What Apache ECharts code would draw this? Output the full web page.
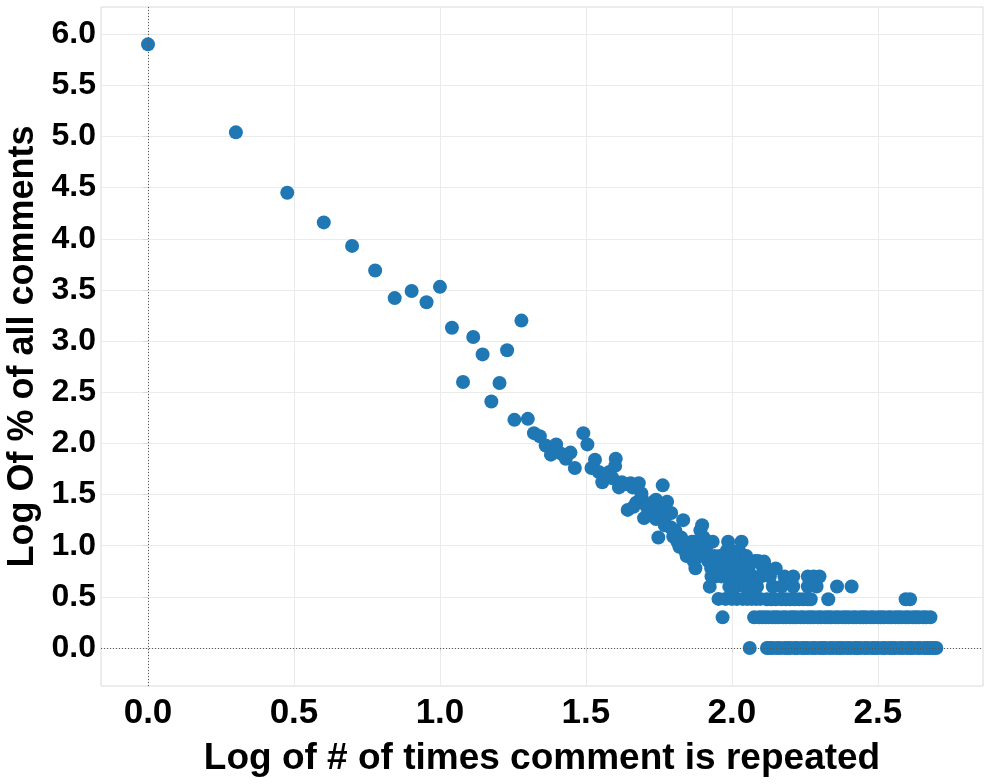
<!DOCTYPE html>
<html><head><meta charset="utf-8">
<script src="https://cdn.jsdelivr.net/npm/echarts@6/dist/echarts.min.js"></script>
<style>html,body{margin:0;padding:0;background:#fff}#chart{width:984px;height:784px}</style>
</head><body><div id="chart"></div>
<script>
// Sparse head of the distribution
const headX = [0, 0.301, 0.477, 0.602, 0.699, 0.778, 0.845, 0.903, 0.954, 1.0, 1.041, 1.079, 1.114, 1.146, 1.176, 1.204, 1.230, 1.255, 1.279, 1.301];
const headY = [5.90, 5.04, 4.45, 4.16, 3.93, 3.69, 3.42, 3.49, 3.38, 3.53, 3.13, 2.60, 3.04, 2.87, 2.41, 2.59, 2.91, 2.23, 3.20, 2.24];

// Dense middle cloud
const midX = [1.322, 1.342, 1.362, 1.380, 1.398, 1.415, 1.431, 1.447, 1.462, 1.491, 1.505, 1.519, 1.531, 1.544, 1.556, 1.568, 1.580, 1.591, 1.602, 1.613,
  1.623, 1.633, 1.643, 1.653, 1.663, 1.672, 1.681, 1.690, 1.699, 1.708, 1.716, 1.724, 1.732, 1.740, 1.748, 1.756, 1.763, 1.771, 1.778, 1.785,
  1.792, 1.799, 1.806, 1.813, 1.820, 1.826, 1.833, 1.839, 1.845, 1.851, 1.857, 1.863, 1.869, 1.875, 1.881, 1.886, 1.892, 1.898, 1.903, 1.908,
  1.914, 1.919, 1.924, 1.929, 1.934, 1.940, 1.944, 1.949, 1.954, 1.959, 1.964, 1.968, 1.973, 1.978, 1.982, 1.987, 1.991, 1.996, 2.000, 2.004,
  2.009, 2.013, 2.017, 2.021, 2.025, 2.029, 2.033, 2.037, 2.041, 2.045, 2.049, 2.053, 2.057, 2.061, 2.064, 2.068, 2.072, 2.076, 2.079, 2.083,
  2.086, 2.090, 2.093, 2.097, 2.100, 2.104, 2.107];
const midY = [2.10, 2.07, 1.98, 1.89, 1.99, 1.90, 1.85, 1.91, 1.76, 2.10, 1.99, 1.76, 1.84, 1.72, 1.62, 1.68, 1.72, 1.66, 1.85, 1.57,
  1.62, 1.60, 1.35, 1.61, 1.38, 1.42, 1.61, 1.48, 1.27, 1.38, 1.40, 1.32, 1.43, 1.45, 1.08, 1.35, 1.59, 1.28, 1.43, 1.32,
  1.32, 1.09, 1.15, 1.04, 0.99, 1.08, 1.25, 0.95, 0.90, 0.98, 0.95, 1.04, 0.85, 0.78, 0.99, 0.95, 1.15, 1.20, 1.08, 0.90,
  1.00, 0.85, 0.60, 0.78, 1.04, 0.90, 0.70, 0.85, 0.48, 0.90, 0.70, 0.30, 0.85, 0.48, 0.95, 1.04, 0.60, 0.78, 0.48, 0.90,
  0.70, 0.60, 0.48, 0.85, 0.95, 0.85, 1.04, 0.48, 0.70, 0.60, 0.90, 0.48, 0.78, 0.00, 0.60, 0.48, 0.70, 0.30, 0.85, 0.48,
  0.60, 0.85, 0.30, 0.48, 0.70, 0.30, 0.78];

// Extra overlapping points inside the dense cloud
const cloudX = [1.600, 1.660, 1.690, 1.720, 1.740, 1.770, 1.790, 1.810, 1.830, 1.860, 1.870, 1.890, 1.910, 1.930, 1.960, 1.990, 2.020, 2.050, 2.070, 1.985, 2.000];
const cloudY = [1.78, 1.57, 1.51, 1.30, 1.26, 1.20, 1.18, 1.08, 1.00, 0.92, 1.04, 0.90, 0.95, 0.70, 0.78, 0.70, 0.78, 0.70, 0.60, 0.85, 0.95];

// Long tail: x positions per discrete y level
const tailX0 = [2.12, 2.13, 2.14, 2.155, 2.165, 2.18, 2.19, 2.20, 2.215, 2.225, 2.24, 2.25, 2.26, 2.275, 2.285, 2.30, 2.31, 2.32, 2.335, 2.345,
  2.36, 2.37, 2.38, 2.395, 2.405, 2.42, 2.43, 2.44, 2.455, 2.465, 2.48, 2.49, 2.50, 2.515, 2.525, 2.54, 2.55, 2.56, 2.575, 2.585,
  2.60, 2.61, 2.62, 2.635, 2.645, 2.66, 2.67, 2.68, 2.69, 2.70];
const tailX030 = [2.115, 2.125, 2.14, 2.15, 2.16, 2.175, 2.185, 2.20, 2.21, 2.22, 2.235, 2.245, 2.26, 2.27, 2.28, 2.295, 2.305, 2.32, 2.33, 2.34,
  2.355, 2.365, 2.38, 2.39, 2.40, 2.415, 2.425, 2.44, 2.45, 2.46, 2.475, 2.485, 2.50, 2.51, 2.52, 2.535, 2.545, 2.56, 2.57, 2.58,
  2.595, 2.605, 2.62, 2.63, 2.64, 2.655, 2.665, 2.68];
const tailX048 = [2.12, 2.135, 2.15, 2.17, 2.185, 2.20, 2.215, 2.23, 2.245, 2.26, 2.27, 2.33, 2.595, 2.61];
const tailX060 = [2.14, 2.17, 2.21, 2.26, 2.29, 2.36, 2.41];
const tailX070 = [2.13, 2.18, 2.21, 2.26, 2.28, 2.30];
const tailX078 = [2.12, 2.15];
const tailX085 = [2.11];
const tailLevels = [0.0, 0.301, 0.477, 0.602, 0.699, 0.778, 0.845];

const xTicks = [0, 0.5, 1.0, 1.5, 2.0, 2.5];
const yTicks = [0, 0.5, 1.0, 1.5, 2.0, 2.5, 3.0, 3.5, 4.0, 4.5, 5.0, 5.5, 6.0];
const xTitle = 'Log of # of times comment is repeated';
const yTitle = 'Log Of % of all comments';

const points = [];
headX.forEach((x, i) => points.push([x, headY[i]]));
midX.forEach((x, i) => points.push([x, midY[i]]));
cloudX.forEach((x, i) => points.push([x, cloudY[i]]));
[tailX0, tailX030, tailX048, tailX060, tailX070, tailX078, tailX085].forEach((row, k) => {
  row.forEach(x => points.push([x, tailLevels[k]]));
});

const FONT = '"Liberation Sans", Arial, sans-serif';
const isTick = (v, list) => list.some(t => Math.abs(t - v) < 1e-6);

const chart = echarts.init(document.getElementById('chart'), null, {renderer: 'canvas'});
chart.setOption({
  animation: false,
  backgroundColor: '#ffffff',
  grid: {left: 101, right: 1, top: 7, bottom: 98, containLabel: false, outerBoundsMode: 'none',
    show: true, borderColor: '#d9d9d9', borderWidth: 1, backgroundColor: 'transparent'},
  xAxis: {
    type: 'value', min: -0.161, max: 2.86, minInterval: 0.5, maxInterval: 0.5,
    name: xTitle, nameLocation: 'middle', nameGap: 54,
    nameTextStyle: {fontFamily: FONT, fontWeight: 'bold', fontSize: 37, color: '#000'},
    axisLine: {show: false},
    axisTick: {show: true, length: 4, lineStyle: {color: '#d9d9d9'}, customValues: xTicks},
    axisLabel: {margin: 10, fontFamily: FONT, fontWeight: 'bold', fontSize: 35, color: '#000', customValues: xTicks,
      formatter: v => isTick(v, xTicks) ? Number(v).toFixed(1) : ''},
    splitLine: {show: true, lineStyle: {color: '#ebebeb', width: 1}}
  },
  yAxis: {
    type: 'value', min: -0.371, max: 6.265, minInterval: 0.5, maxInterval: 0.5,
    name: yTitle, nameLocation: 'middle', nameGap: 47,
    nameTextStyle: {fontFamily: FONT, fontWeight: 'bold', fontSize: 36, color: '#000'},
    axisLine: {show: false},
    axisTick: {show: true, length: 5, lineStyle: {color: '#d9d9d9'}, customValues: yTicks},
    axisLabel: {margin: 5, fontFamily: FONT, fontWeight: 'bold', fontSize: 32, color: '#000', customValues: yTicks,
      formatter: v => isTick(v, yTicks) ? Number(v).toFixed(1) : ''},
    splitLine: {show: true, lineStyle: {color: '#ebebeb', width: 1}}
  },
  series: [
    {
      type: 'line', data: [], silent: true, z: 1,
      markLine: {
        silent: true, symbol: 'none', label: {show: false},
        lineStyle: {color: '#555', type: [1, 2], width: 1},
        data: [{xAxis: 0}, {yAxis: 0}]
      }
    },
    {
      type: 'scatter', data: points, symbolSize: 14, z: 3,
      itemStyle: {color: '#1f77b4', opacity: 1}
    }
  ]
});
</script></body></html>
